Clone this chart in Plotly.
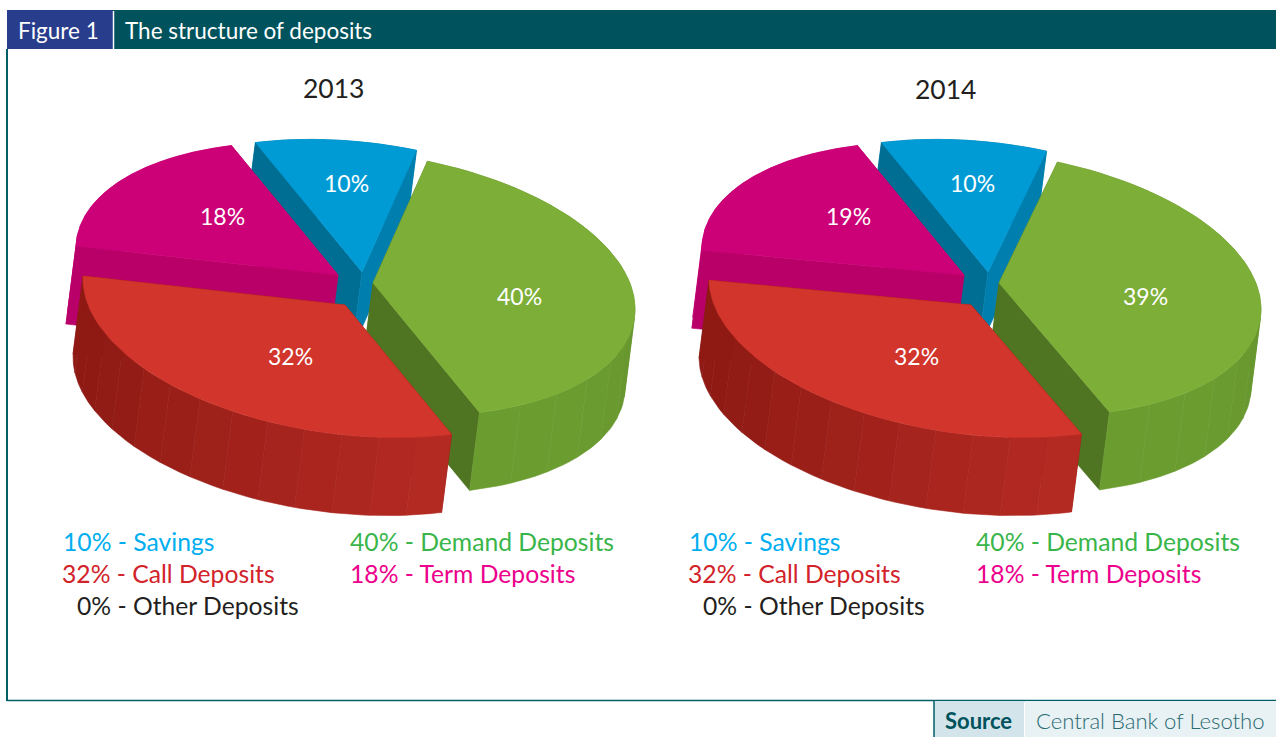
import math
import plotly.graph_objects as go

# ---- data ----
YEARS = ["2013", "2014"]
CATEGORIES = ["Savings", "Demand Deposits", "Call Deposits", "Term Deposits", "Other Deposits"]
VALUES_2013 = [10, 40, 32, 18, 0]
VALUES_2014 = [10.25, 39.49, 31.75, 18.51, 0]
LEGEND_VALUES = [10, 40, 32, 18, 0]   # the printed legend is the same under both pies

# ---- style / layout ----
FONT = "Lato"
TEAL = "#00535c"
TOP = ["#009bd5", "#7dae38", "#d1352c", "#cc0077"]
FACE_START = ["#006d92", "#4f7522", "#8f1a14", "#b80068"]
FACE_END = ["#007fae", "#4f7522", "#8f1a14", "#b80068"]
RIM_A = ["#007fae", "#5a8828", "#b32a22", "#c4007a"]
RIM_B = ["#007fae", "#6b9c30", "#8f1a14", "#c4007a"]
RIM_FIRST = [True, False, False, True]
LEGEND_COL = ["#00aeef", "#39b54a", "#d2232a", "#ec008c", "#231f20"]
DRAW_ORDER = [0, 3, 1, 2]
RX, RY, SHEAR = 262, 130, 0.1
DEPTH = (-10, 78)
START = -24
CENTRES = [(352, 283), (978, 283)]
PULL = [(10, -11), (21, 0), (-7, 22), (-14, -8)]
LABEL_POS = [(-6, -100), (167, 13), (-62, 73), (-130, -67)]
TITLE_POS = [(333, 88), (945, 89)]
LEG_POS = [(61, 541), (348, 541), (60, 573), (348, 573), (75, 605)]
LEG_DX = [0, 626]

fig = go.Figure()


def rim_pt(apex, deg):
    t = math.radians(deg)
    dx = RX * math.sin(t)
    dy = -RY * math.cos(t) + SHEAR * dx
    return apex[0] + dx, apex[1] + dy


def poly(pts, color):
    fig.add_trace(go.Scatter(
        x=[p[0] for p in pts] + [pts[0][0]],
        y=[p[1] for p in pts] + [pts[0][1]],
        mode="lines", fill="toself", fillcolor=color,
        line=dict(color=color, width=0.6), hoverinfo="skip", showlegend=False))


def mix(a, b, f):
    ca = [int(a[i:i + 2], 16) for i in (1, 3, 5)]
    cb = [int(b[i:i + 2], 16) for i in (1, 3, 5)]
    return "#%02x%02x%02x" % tuple(round(x + (y - x) * f) for x, y in zip(ca, cb))


def ext(p):
    return p[0] + DEPTH[0], p[1] + DEPTH[1]


def draw_rim(i, apex, a0, a1):
    n = 14
    for b in range(n):
        u0 = a0 + (a1 - a0) * b / n
        u1 = a0 + (a1 - a0) * (b + 1) / n
        steps = [u0 + (u1 - u0) * k / 6 for k in range(7)]
        arc = [rim_pt(apex, s) for s in steps]
        poly(arc + [ext(p) for p in reversed(arc)],
             mix(RIM_A[i], RIM_B[i], min(1, b / (n * 0.75))))


def draw_pie(values, centre):
    angles = [START]
    for v in values[:4]:
        angles.append(angles[-1] + v * 3.6)
    for i in DRAW_ORDER:
        a0, a1 = angles[i], angles[i + 1]
        apex = (centre[0] + PULL[i][0], centre[1] + PULL[i][1])
        p0, p1 = rim_pt(apex, a0), rim_pt(apex, a1)
        if RIM_FIRST[i]:
            draw_rim(i, apex, a0, a1)
        poly([apex, p0, ext(p0), ext(apex)], FACE_START[i])
        poly([apex, p1, ext(p1), ext(apex)], FACE_END[i])
        if not RIM_FIRST[i]:
            draw_rim(i, apex, a0, a1)
        top = [apex] + [rim_pt(apex, a0 + (a1 - a0) * k / 80) for k in range(81)]
        poly(top, TOP[i])


def label(x, y, text, size, color, anchor="center", weight=None):
    fig.add_annotation(x=x, y=y, text=text, showarrow=False, xanchor=anchor, yanchor="middle",
                       font=dict(family=FONT, size=size, color=color,
                                 **({"weight": weight} if weight else {})))


for vals, c in zip([VALUES_2013, VALUES_2014], CENTRES):
    draw_pie(vals, c)
    for i in range(4):
        label(c[0] + LABEL_POS[i][0], c[1] + LABEL_POS[i][1], f"{round(vals[i])}%", 23, "white")

for year, pos in zip(YEARS, TITLE_POS):
    label(pos[0], pos[1], year, 26.5, "#231f20")

for dx in LEG_DX:
    for i, name in enumerate(CATEGORIES):
        label(LEG_POS[i][0] + dx, LEG_POS[i][1], f"{LEGEND_VALUES[i]}% - {name}", 24.7, LEGEND_COL[i], "left")

shapes = [
    dict(type="rect", x0=7, x1=1276, y0=10, y1=49, fillcolor=TEAL, line_width=0),
    dict(type="rect", x0=7, x1=113, y0=10, y1=49, fillcolor="#283d8c", line_width=0),
    dict(type="line", x0=113.5, x1=113.5, y0=11, y1=49, line=dict(color="white", width=1.5)),
    dict(type="line", x0=7, x1=7, y0=49, y1=701, line=dict(color="#005f66", width=2)),
    dict(type="line", x0=7, x1=1276, y0=700.5, y1=700.5, line=dict(color="#005f66", width=1.5)),
    dict(type="rect", x0=934, x1=1024, y0=701, y1=737, fillcolor="#d3e5ea", line_width=0),
    dict(type="rect", x0=1025, x1=1276, y0=701, y1=737, fillcolor="#e8f1f3", line_width=0),
    dict(type="line", x0=934, x1=934, y0=701, y1=737, line=dict(color="#005f66", width=1.5)),
]
for s in shapes:
    s["xref"], s["yref"] = "x", "y"
    s["layer"] = "below"

label(16, 30, "Figure 1", 22.5, "white", "left")
label(123, 30, "The structure of deposits", 22.5, "white", "left")
label(943, 720, "Source", 22, TEAL, "left", 700)
label(1034, 720, "Central Bank of Lesotho", 22.1, "#2a6a72", "left", 300)

fig.update_layout(
    width=1276, height=737, margin=dict(l=0, r=0, t=0, b=0),
    paper_bgcolor="white", plot_bgcolor="white", shapes=shapes, showlegend=False,
    xaxis=dict(range=[0, 1276], visible=False, fixedrange=True),
    yaxis=dict(range=[737, 0], visible=False, fixedrange=True),
)
fig.write_html("out.html", config=dict(displayModeBar=False),
               post_script="document.body.style.margin='0';document.body.style.overflow='hidden';")
